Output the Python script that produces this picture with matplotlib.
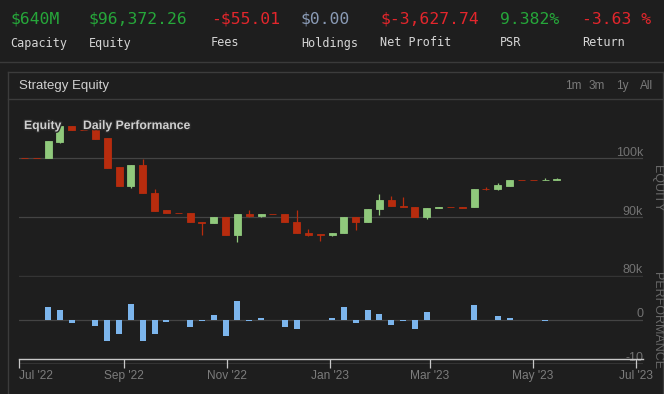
import matplotlib
matplotlib.use('Agg')
import matplotlib.pyplot as plt
import matplotlib.dates as mdates
import matplotlib.patheffects as pe
from matplotlib.lines import Line2D
import numpy as np
import pandas as pd

# ---------------- data ----------------
stat_labels = ["Capacity", "Equity", "Fees", "Holdings", "Net Profit", "PSR", "Return"]
stat_values = ["$640M", "$96,372.26", "-$55.01", "$0.00", "$-3,627.74", "9.382%", "-3.63 %"]

first_week = "2022-07-04"
eq_open = [100.0, 100.0, 100.0, 102.8, 105.4, 104.8, 104.9, 103.4, 98.5, 95.2,
           98.8, 94.1, 91.1, 90.7, 90.7, 89.2, 88.9, 90.0, 86.9, 90.55,
           90.2, 90.5, 90.55, 89.1, 87.3, 87.1, 87.0, 87.2, 89.9, 89.1,
           91.3, 92.9, 91.9, 91.7, 89.95, 91.5, 91.65, 91.75, 91.6, 94.8,
           94.7, 95.3, 96.3, 96.3, 96.25, 96.2]
eq_close = [100.0, 100.0, 102.9, 105.5, 104.7, 104.8, 103.3, 98.4, 95.2, 98.8,
            94.0, 91.0, 90.6, 90.7, 89.1, 88.9, 90.0, 86.9, 90.55, 90.2,
            90.55, 90.5, 89.1, 87.2, 87.0, 87.0, 87.3, 89.9, 89.1, 91.4,
            92.9, 91.8, 91.6, 89.9, 91.5, 91.7, 91.65, 91.55, 94.8, 94.7,
            95.5, 96.3, 96.3, 96.3, 96.35, 96.5]
eq_high = [100.0, 100.0, 102.9, 105.5, 105.4, 104.8, 104.9, 103.4, 98.5, 98.8,
           99.9, 94.8, 91.1, 90.7, 90.7, 89.2, 90.0, 90.0, 90.55, 91.1,
           90.55, 90.5, 90.55, 91.1, 88.0, 87.1, 87.3, 89.9, 89.9, 91.4,
           93.9, 93.6, 93.3, 91.7, 91.5, 91.7, 91.65, 91.75, 94.8, 95.1,
           95.8, 96.3, 96.3, 96.3, 96.7, 96.7]
eq_low = [100.0, 100.0, 100.0, 102.5, 104.7, 104.8, 103.3, 98.4, 95.2, 95.0,
          94.0, 91.0, 90.6, 90.7, 89.1, 86.9, 88.9, 86.9, 85.7, 90.0,
          90.0, 90.5, 89.1, 87.2, 86.7, 85.9, 86.8, 87.2, 87.7, 89.1,
          90.4, 91.8, 91.6, 89.9, 89.6, 91.5, 91.65, 91.55, 91.6, 94.5,
          94.5, 95.3, 96.3, 96.3, 96.25, 96.2]
daily_perf = [0, 0, 2.8, 2.3, -0.8, 0, -1.5, -4.9, -3.3, 3.5,
              -4.9, -3.3, -0.6, 0, -1.7, -0.4, 1.0, -3.6, 4.2, -0.4,
              0.35, 0, -1.7, -2.2, 0, 0, 0.35, 2.8, -0.8, 2.3,
              1.4, -1.3, -0.4, -2.0, 1.7, 0, 0, 0, 3.3, 0,
              0.75, 0.5, 0, 0, -0.35, 0]

tick_dates = ["2022-07-01", "2022-09-01", "2022-11-01", "2023-01-01",
              "2023-03-01", "2023-05-01", "2023-07-01"]
tick_labels = ["Jul '22", "Sep '22", "Nov '22", "Jan '23", "Mar '23", "May '23", "Jul '23"]
eq_ticks = [80, 90, 100]
eq_tick_labels = ["80k", "90k", "100k"]
perf_ticks = [0, -10]
perf_tick_labels = ["0", "-10"]
ranges = ["1m", "3m", "1y", "All"]

# ---------------- style ----------------
W, H = 664, 394
BG = '#1e1e1e'
GREEN = '#26a73a'
RED = '#e3262c'
UP = '#90c97c'
DOWN = '#b72c0e'
BAR = '#7cb5ec'
GRID = '#444444'

stat_colors = [GREEN, GREEN, RED, '#8a9bb6', RED, GREEN, RED]
stat_x = [10, 89, 211, 301, 380, 500, 582]

plt.rcParams['font.family'] = ['Liberation Sans', 'DejaVu Sans']

fig = plt.figure(figsize=(W / 100, H / 100), dpi=100, facecolor=BG)


def fx(x):
    return x / W


def fy(y):
    return 1 - y / H


def rect(x0, y0, x1, y1):
    return [x0 / W, 1 - y1 / H, (x1 - x0) / W, (y1 - y0) / H]


def hline(y, x0, x1, color, lw=0.75):
    fig.add_artist(Line2D([fx(x0), fx(x1)], [fy(y), fy(y)], color=color, lw=lw,
                          transform=fig.transFigure))


def vline(x, y0, y1, color, lw=0.75):
    fig.add_artist(Line2D([fx(x), fx(x)], [fy(y0), fy(y1)], color=color, lw=lw,
                          transform=fig.transFigure))


# top stats
for lab, val, col, x in zip(stat_labels, stat_values, stat_colors, stat_x):
    fig.text(fx(x), fy(19), val, color=col, fontsize=11.8, family='DejaVu Sans Mono',
             ha='left', va='center')
    fig.text(fx(x), fy(43), lab, color='#d6d6d6', fontsize=8.5, family='DejaVu Sans Mono',
             ha='left', va='center')

# panel frame
hline(62, 0, W, '#3a3a3a', 1.0)
hline(71.5, 8, W - 1, '#3c3c3c', 1.0)
hline(98.5, 8, W - 1, '#3c3c3c', 1.0)
vline(8, 71.5, H, '#3c3c3c', 1.0)
vline(W - 1, 71.5, H, '#3c3c3c', 1.0)

fig.text(fx(19), fy(86), "Strategy Equity", color='#d0d0d0', fontsize=9.5,
         ha='left', va='center')
for lab, x in zip(ranges, [565, 589, 616, 640]):
    fig.text(fx(x), fy(86), lab, color='#7a7a7a', fontsize=8.5, ha='left', va='center')

# ---------------- axes ----------------
L, R = 19.3, 643
weeks = pd.date_range(first_week, periods=len(eq_open), freq='7D')
xd = mdates.date2num(weeks.to_pydatetime())
x_start = mdates.date2num(pd.Timestamp('2022-07-01').to_pydatetime())
x_end = x_start + (R - L) / (617 / 365)
px_per_day = 617 / 365

ax = fig.add_axes(rect(L, 99.3, R, 275.7))
axp = fig.add_axes(rect(L, 275.7, R, 363.7))
for a in (ax, axp):
    a.set_facecolor('none')
    a.set_xlim(x_start, x_end)
    for s in a.spines.values():
        s.set_visible(False)
    a.set_xticks([])
    a.set_yticks([])

ax.set_ylim(80, 110)
axp.set_ylim(-10, 10)

for v in [80, 90, 100]:
    ax.axhline(v, color=GRID, lw=0.9, zorder=0)
for v in [10, 0, -10]:
    axp.axhline(v, color=GRID if v == 0 else '#3c3c3c', lw=0.9 if v == 0 else 1.1, zorder=0)

eo = np.array(eq_open)
ec = np.array(eq_close)
colors = [UP if c > o else DOWN for o, c in zip(eo, ec)]
ax.vlines(xd, eq_low, eq_high, colors=colors, lw=0.9, zorder=2)
ax.bar(xd, ec - eo, bottom=eo, width=7 / px_per_day, color=colors,
       edgecolor=colors, linewidth=0.6, zorder=3)

axp.bar(xd, daily_perf, width=6 / px_per_day, color=BAR, zorder=3)

for v, t in zip(eq_ticks, eq_tick_labels):
    ax.annotate(t, xy=(1, v), xycoords=ax.get_yaxis_transform(), xytext=(0, 3.8),
                textcoords='offset points', ha='right', va='center', color='#727272',
                fontsize=9, annotation_clip=False)
for v, t in zip(perf_ticks, perf_tick_labels):
    axp.annotate(t, xy=(1, v), xycoords=axp.get_yaxis_transform(), xytext=(0, 3.8),
                 textcoords='offset points', ha='right', va='center', color='#727272',
                 fontsize=9, annotation_clip=False)

fig.text(fx(657), fy(188), "EQUITY", rotation=270, color='#686868', fontsize=9,
         ha='center', va='center')
fig.text(fx(657), fy(321), "PERFORMANCE", rotation=270, color='#686868', fontsize=9,
         ha='center', va='center')

# legend
fx_eff = [pe.withStroke(linewidth=2, foreground='#2a2a2a')]
fig.text(fx(24), fy(126), "Equity", color='#cfcfcf', fontsize=8.8, fontweight='bold',
         ha='left', va='center', path_effects=fx_eff, zorder=10)
fig.text(fx(83), fy(126), "Daily Performance", color='#cfcfcf', fontsize=8.8,
         fontweight='bold', ha='left', va='center', path_effects=fx_eff, zorder=10)

# x axis
axx = fig.add_axes(rect(L, 350, R, 359))
axx.set_facecolor('none')
axx.set_xlim(x_start, x_end)
axx.set_yticks([])
for k in ['top', 'left', 'right']:
    axx.spines[k].set_visible(False)
axx.spines['bottom'].set_color('#c8c8c8')
axx.spines['bottom'].set_linewidth(1.0)
td = mdates.date2num(pd.to_datetime(tick_dates).to_pydatetime())
axx.set_xticks(td)
axx.set_xticklabels(tick_labels)
axx.tick_params(axis='x', direction='out', length=6.5, width=0.9, color='#c8c8c8',
                labelcolor='#7c7c7c', labelsize=8.6, pad=1.2)
axx.get_xticklabels()[0].set_ha('left')

fig.savefig('out.png', dpi=100, facecolor=BG)
